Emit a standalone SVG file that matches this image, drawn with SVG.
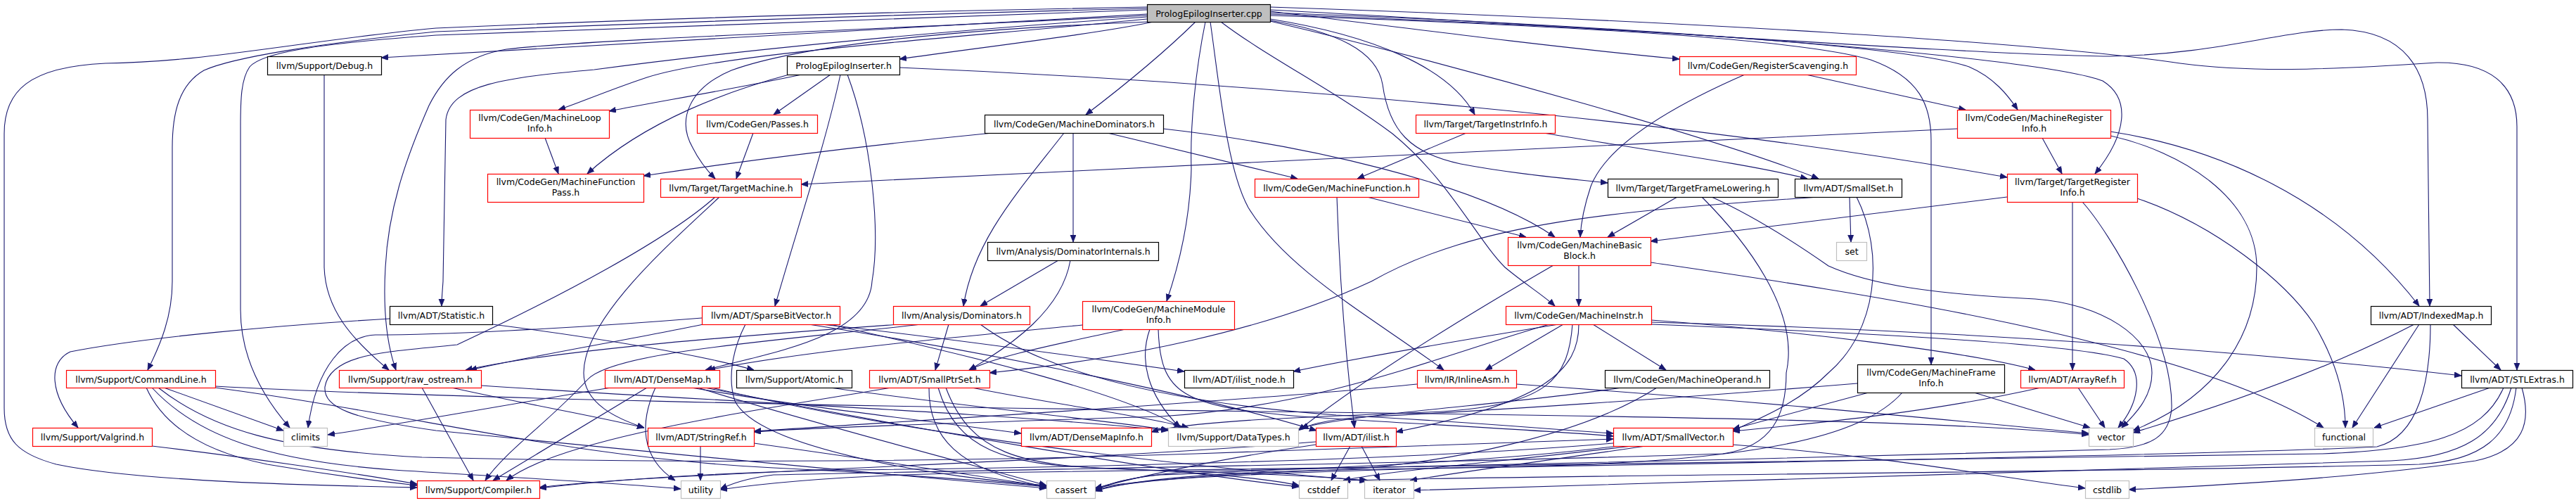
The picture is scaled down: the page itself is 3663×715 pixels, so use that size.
<svg xmlns="http://www.w3.org/2000/svg" width="3663" height="715" viewBox="0 0 3663 715">
<style>
.nd rect{fill:#fff;stroke:#000;stroke-width:1.2}
.nd.red rect{stroke:#ff0000}
.nd.leaf rect{stroke:#bfbfbf}
.nd.root rect{fill:#bfbfbf}
.nd text{font-family:"DejaVu Sans","Liberation Sans",sans-serif;font-size:12.5px;text-anchor:middle;fill:#000}
#edges path{fill:none;stroke:#191970;stroke-width:1.1;marker-end:url(#arr)}
</style>
<defs>
<marker id="arr" markerUnits="userSpaceOnUse" markerWidth="11" markerHeight="9" refX="10" refY="4" orient="auto"><path d="M0,0 L10,4 L0,8 z" fill="#191970" stroke="#191970" stroke-width="0.8"/></marker>
</defs>
<rect width="3663" height="715" fill="#fff"/>
<g id="edges">
<!-- cpp -->
<path d="M1640,31 C1560,48 1390,68 1279,84"/>
<path d="M1631,20 C1200,42 800,68 542,82"/>
<path d="M1631,10 C1100,20 800,32 620,40 C450,55 300,88 150,90 C40,95 6,130 6,190 L6,580 C6,625 25,645 80,660 C200,685 450,690 593,693"/>
<path d="M1631,12 C1100,25 800,38 620,45 C450,62 330,82 290,100 C255,120 245,160 245,210 L245,400 C245,450 228,490 210,526"/>
<path d="M1631,14 C1100,30 800,44 620,50 C450,62 372,75 355,95 C343,112 342,140 342,180 L342,440 C342,505 370,560 412,608"/>
<path d="M1631,22 C1300,40 850,55 720,70 C660,80 630,110 610,150 C575,230 552,300 548,380 C544,450 552,495 563,526"/>
<path d="M1631,24 C1400,40 1100,65 845,99 C720,110 640,120 634,170 L630,400 C629,415 628,425 628,435"/>
<path d="M1631,27 C1350,55 1030,75 920,110 C860,130 820,148 794,156"/>
<path d="M1633,31 C1400,40 1150,60 1040,100 C980,125 962,170 985,210 C995,230 1008,245 1017,254"/>
<path d="M1700,31 C1650,80 1590,128 1544,163"/>
<path d="M1714,31 C1700,100 1692,180 1694,240 C1692,320 1672,390 1659,428"/>
<path d="M1721,31 C1735,130 1745,240 1775,295 C1830,385 1950,450 2053,526"/>
<path d="M1736,31 C1800,80 1900,130 1980,190 C2060,255 2100,340 2140,380 C2170,405 2195,420 2211,435"/>
<path d="M1806,27 C1950,50 2060,95 2097,163"/>
<path d="M1806,29 C1900,45 1958,72 1966,120 C1975,185 2005,218 2077,233 C2150,247 2230,254 2286,260"/>
<path d="M1806,16 C2000,40 2200,66 2388,84"/>
<path d="M1806,30 C2100,100 2450,200 2586,254"/>
<path d="M1806,20 C2200,35 2700,60 2800,95 C2835,110 2855,135 2869,156"/>
<path d="M1806,18 C2300,35 2900,80 2990,115 C3030,140 3025,190 2979,247"/>
<path d="M1806,22 C2200,35 2560,55 2660,85 C2730,110 2746,150 2746,200 L2746,518"/>
<path d="M1806,14 C2300,40 2800,78 3000,80 C3150,78 3250,42 3330,42 C3420,45 3452,100 3452,170 L3455,435"/>
<path d="M1806,10 C2400,30 2900,60 3100,90 C3200,103 3300,100 3465,89 C3540,88 3579,120 3579,180 L3579,526"/>
<!-- Debug -->
<path d="M461,106 L461,380 C463,440 500,482 553,526"/>
<!-- PEI.h -->
<path d="M1140,106 C1050,125 950,142 866,158"/>
<path d="M1122,106 C1040,128 920,170 835,247"/>
<path d="M1181,106 L1100,163"/>
<path d="M1195,106 C1175,200 1135,320 1102,435"/>
<path d="M1205,106 C1240,200 1252,330 1240,400 C1235,480 1100,500 1003,526"/>
<path d="M1279,96 C1800,118 2400,172 2854,252"/>
<!-- RS -->
<path d="M2481,106 C2380,150 2285,205 2262,265 C2252,295 2248,318 2247,337"/>
<path d="M2568,106 L2795,156"/>
<!-- MLI, Passes -->
<path d="M775,196 L794,247"/>
<path d="M1071,189 L1047,254"/>
<!-- MDom -->
<path d="M1411,189 C1300,200 1100,222 915,250"/>
<path d="M1575,189 C1680,215 1780,238 1845,254"/>
<path d="M1654,183 C1850,205 2100,260 2211,337"/>
<path d="M1526,189 L1526,344"/>
<path d="M1513,189 C1450,270 1385,340 1370,435"/>
<!-- TII -->
<path d="M2085,189 L1930,254"/>
<path d="M2195,189 C2350,215 2480,232 2570,254"/>
<!-- MRI -->
<path d="M2783,183 C2300,205 1600,240 1139,262"/>
<path d="M2904,196 L2932,247"/>
<path d="M3001,187 C3150,210 3320,280 3440,435"/>
<path d="M3001,193 C3100,215 3209,280 3209,380 C3209,480 3150,565 3033,612"/>
<!-- TM -->
<path d="M1023,280 C960,340 830,450 830,530 C830,575 880,596 916,608"/>
<path d="M1017,280 C950,340 800,420 650,490 C560,500 470,500 462,550 C460,580 500,595 620,612 C800,630 1200,670 1488,694"/>
<!-- MF -->
<path d="M1901,280 C1905,400 1915,520 1926,608"/>
<path d="M1944,280 L2170,337"/>
<!-- TFL -->
<path d="M2385,280 L2286,337"/>
<path d="M2420,280 C2480,340 2560,440 2540,530 C2540,590 2520,635 2450,645 C2000,660 1400,668 1100,675 C1060,680 1040,688 1024,695"/>
<path d="M2434,280 C2500,310 2560,350 2600,378 C2660,405 2750,418 2894,425 C2990,432 3060,480 3060,530 C3060,565 3035,590 3017,608"/>
<!-- SmallSet -->
<path d="M2630,280 L2632,344"/>
<path d="M2585,280 C2300,300 2100,315 1950,400 C1800,470 1600,510 1407,530"/>
<path d="M2640,280 C2680,360 2670,470 2600,530 C2560,570 2510,592 2464,612"/>
<!-- TRI -->
<path d="M2854,280 C2650,305 2450,330 2347,343"/>
<path d="M2947,287 L2947,526"/>
<path d="M3039,282 C3150,320 3250,400 3290,460 C3320,510 3335,560 3335,608"/>
<path d="M2961,287 C3000,330 3090,480 3088,580 C3085,620 3060,636 3000,639 C2600,650 2000,665 1700,670 C1620,675 1580,685 1557,697"/>
<!-- MBB -->
<path d="M2245,377 L2245,435"/>
<path d="M2209,377 C2100,440 1950,530 1846,612"/>
<path d="M2347,373 C2600,410 3100,480 3304,608"/>
<!-- DomInt -->
<path d="M1505,370 L1394,435"/>
<path d="M1522,370 C1510,440 1440,490 1378,526"/>
<!-- Dominators -->
<path d="M1349,461 L1330,526"/>
<path d="M1279,461 C1100,474 800,495 662,526"/>
<path d="M1310,461 C1100,485 870,500 835,540 C780,600 720,640 690,683"/>
<path d="M1394,461 C1500,540 1700,575 1900,590 C2100,600 2200,610 2294,616"/>
<!-- MMI -->
<path d="M1600,468 C1500,490 1420,505 1378,526"/>
<path d="M1635,468 C1620,510 1630,560 1678,608"/>
<path d="M1647,468 C1650,560 1680,578 1850,592 C2000,602 2200,612 2294,620"/>
<path d="M1539,462 C1350,480 1150,498 1007,526"/>
<!-- MI -->
<path d="M2216,461 C2100,480 1950,505 1839,528"/>
<path d="M2223,461 L2112,526"/>
<path d="M2265,461 L2369,526"/>
<path d="M2245,461 C2245,525 2200,572 1985,614"/>
<path d="M2203,461 C2050,505 1880,578 1650,592 C1400,600 1150,608 1072,614"/>
<path d="M2236,461 C2230,540 2200,575 2050,585 C1900,592 1700,596 1637,614"/>
<path d="M2348,455 C2550,470 2800,500 2894,526"/>
<path d="M2348,458 C2800,470 3200,500 3500,534"/>
<path d="M2348,461 C2700,475 2950,490 3020,510 C3050,530 3040,575 3012,608"/>
<!-- IndexedMap -->
<path d="M3488,461 L3556,526"/>
<path d="M3440,461 L3345,608"/>
<path d="M3433,461 C3300,530 3150,580 3033,615"/>
<path d="M3456,461 C3456,540 3440,620 3380,635 C3200,645 2400,660 1900,668 C1700,672 1600,685 1557,698"/>
<!-- CommandLine -->
<path d="M233,551 L403,612"/>
<path d="M208,551 C230,600 280,640 380,660 C450,672 520,682 593,690"/>
<path d="M216,551 C280,620 380,655 560,668 C750,680 900,688 968,695"/>
<path d="M225,551 C300,610 400,640 600,650 C1000,660 1400,655 1700,645 C2000,636 2200,628 2294,624"/>
<path d="M306,551 C600,590 800,650 1100,665 C1300,675 1420,685 1488,692"/>
<path d="M306,549 C600,565 1200,578 1800,585 C2400,592 2800,600 2970,618"/>
<!-- Valgrind -->
<path d="M216,634 C350,650 500,672 593,688"/>
<!-- Statistic -->
<path d="M700,461 C850,480 1000,505 1072,526"/>
<path d="M554,453 C400,462 200,480 100,500 C68,515 70,560 111,608"/>
<!-- raw_ostream -->
<path d="M600,551 L673,683"/>
<path d="M642,551 C750,575 850,592 916,608"/>
<path d="M684,548 C1000,570 1400,585 1661,612"/>
<!-- SBV -->
<path d="M998,452 C800,468 620,476 534,476 C490,478 450,520 438,608"/>
<path d="M1000,461 C900,482 760,505 668,526"/>
<path d="M1168,461 C1300,475 1450,495 1684,528"/>
<path d="M1150,461 C1400,500 1700,560 1872,612"/>
<path d="M1180,461 C1400,510 1600,560 1680,608"/>
<path d="M1060,461 C1040,500 1035,540 1045,570 C1080,640 1350,680 1488,690"/>
<!-- DenseMap -->
<path d="M869,551 C750,570 600,598 466,618"/>
<path d="M920,551 L701,683"/>
<path d="M932,551 C910,600 910,650 960,683"/>
<path d="M983,551 C1150,580 1350,602 1452,616"/>
<path d="M992,551 C1150,600 1380,660 1488,690"/>
<path d="M1002,551 C1300,610 1650,670 1847,692"/>
<path d="M1012,551 C1300,620 1700,665 1945,683"/>
<!-- SmallPtrSet -->
<path d="M1267,551 C1100,580 800,620 720,683"/>
<path d="M1321,551 C1320,620 1360,668 1488,692"/>
<path d="M1334,551 C1360,640 1430,660 1560,665 C1700,670 1800,680 1847,690"/>
<path d="M1345,551 C1380,645 1450,662 1600,667 C1750,672 1880,676 1943,684"/>
<path d="M1382,551 C1500,575 1620,590 1690,608"/>
<!-- Atomic -->
<path d="M1180,551 C1350,575 1550,595 1661,611"/>
<!-- InlineAsm -->
<path d="M2015,546 C1800,568 1300,598 1072,613"/>
<path d="M2156,546 C2500,570 2800,600 2970,616"/>
<!-- MachineOperand -->
<path d="M2306,551 C2150,575 1950,585 1850,608"/>
<path d="M2356,551 C2250,620 2050,660 1900,668 C1700,675 1600,686 1557,696"/>
<!-- MFI -->
<path d="M2657,558 L2464,610"/>
<path d="M2641,545 C2400,565 2100,585 1950,592 C1900,595 1865,602 1850,610"/>
<path d="M2705,558 C2650,620 2500,660 2100,664 C1800,672 1620,680 1557,694"/>
<path d="M2807,558 L2972,608"/>
<!-- ArrayRef -->
<path d="M2902,551 C2750,585 2600,600 2464,613"/>
<path d="M2955,551 L2993,608"/>
<!-- STLExtras -->
<path d="M3541,551 L3376,608"/>
<path d="M3586,551 C3600,600 3590,640 3520,655 C3350,680 3150,690 3027,696"/>
<path d="M3560,551 C3530,620 3450,640 3300,645 C2500,660 1800,668 1400,672 C1200,675 1080,688 1024,696"/>
<path d="M3571,551 C3550,620 3500,650 3400,655 C3000,668 2300,688 2010,697"/>
<path d="M3578,551 C3570,620 3530,655 3440,660 C3000,672 2200,675 1910,683"/>
<!-- StringRef -->
<path d="M996,634 L996,683"/>
<path d="M1072,630 C1250,655 1400,678 1488,692"/>
<!-- ilist -->
<path d="M1920,634 L1893,683"/>
<path d="M1936,634 L1962,683"/>
<path d="M1871,632 C1750,650 1650,670 1557,694"/>
<path d="M1871,628 C1600,650 1200,665 1000,676 C900,681 820,686 767,693"/>
<!-- SmallVector -->
<path d="M2463,632 C2700,650 2850,680 2965,694"/>
<path d="M2294,630 C2000,655 1500,665 1200,668 C1000,672 850,684 767,694"/>
<path d="M2300,634 C2100,660 1800,668 1650,675 C1600,680 1575,688 1557,696"/>
<path d="M2320,634 C2150,655 1980,668 1910,683"/>
<path d="M2340,634 C2200,655 2080,670 2005,683"/>
</g>
<g id="n_cpp" class="nd root"><rect x="1631.5" y="6.5" width="175" height="25"/><text x="1719" y="23.5">PrologEpilogInserter.cpp</text></g>
<g id="n_debug" class="nd"><rect x="380.5" y="80.5" width="162" height="26"/><text x="461.5" y="98">llvm/Support/Debug.h</text></g>
<g id="n_pei" class="nd"><rect x="1119.5" y="80.5" width="160" height="26"/><text x="1199.5" y="98">PrologEpilogInserter.h</text></g>
<g id="n_rs" class="nd red"><rect x="2388.5" y="80.5" width="251" height="26"/><text x="2514" y="98">llvm/CodeGen/RegisterScavenging.h</text></g>
<g id="n_mli" class="nd red"><rect x="668.5" y="156.5" width="198" height="40"/><text x="767.5" y="172">llvm/CodeGen/MachineLoop</text><text x="767.5" y="187">Info.h</text></g>
<g id="n_passes" class="nd red"><rect x="991.5" y="163.5" width="171" height="26"/><text x="1077" y="181">llvm/CodeGen/Passes.h</text></g>
<g id="n_mdom" class="nd"><rect x="1400.5" y="163.5" width="254" height="26"/><text x="1527.5" y="181">llvm/CodeGen/MachineDominators.h</text></g>
<g id="n_tii" class="nd red"><rect x="2013.5" y="163.5" width="198" height="26"/><text x="2112.5" y="181">llvm/Target/TargetInstrInfo.h</text></g>
<g id="n_mri" class="nd red"><rect x="2783.5" y="156.5" width="218" height="40"/><text x="2892.5" y="172">llvm/CodeGen/MachineRegister</text><text x="2892.5" y="187">Info.h</text></g>
<g id="n_mfp" class="nd red"><rect x="693.5" y="247.5" width="222" height="40"/><text x="804.5" y="263">llvm/CodeGen/MachineFunction</text><text x="804.5" y="278">Pass.h</text></g>
<g id="n_tm" class="nd red"><rect x="939.5" y="254.5" width="200" height="26"/><text x="1039.5" y="272">llvm/Target/TargetMachine.h</text></g>
<g id="n_mf" class="nd red"><rect x="1784.5" y="254.5" width="233" height="26"/><text x="1901" y="272">llvm/CodeGen/MachineFunction.h</text></g>
<g id="n_tfl" class="nd"><rect x="2286.5" y="254.5" width="242" height="26"/><text x="2407.5" y="272">llvm/Target/TargetFrameLowering.h</text></g>
<g id="n_smallset" class="nd"><rect x="2552.5" y="254.5" width="152" height="26"/><text x="2628.5" y="272">llvm/ADT/SmallSet.h</text></g>
<g id="n_tri" class="nd red"><rect x="2854.5" y="247.5" width="185" height="40"/><text x="2947" y="263">llvm/Target/TargetRegister</text><text x="2947" y="278">Info.h</text></g>
<g id="n_mbb" class="nd red"><rect x="2144.5" y="337.5" width="203" height="40"/><text x="2246" y="353">llvm/CodeGen/MachineBasic</text><text x="2246" y="368">Block.h</text></g>
<g id="n_domint" class="nd"><rect x="1404.5" y="344.5" width="243" height="26"/><text x="1526" y="362">llvm/Analysis/DominatorInternals.h</text></g>
<g id="n_set" class="nd leaf"><rect x="2611.5" y="344.5" width="43" height="26"/><text x="2633" y="362">set</text></g>
<g id="n_statistic" class="nd"><rect x="554.5" y="435.5" width="146" height="26"/><text x="627.5" y="453">llvm/ADT/Statistic.h</text></g>
<g id="n_sbv" class="nd red"><rect x="998.5" y="435.5" width="196" height="26"/><text x="1096.5" y="453">llvm/ADT/SparseBitVector.h</text></g>
<g id="n_dominators" class="nd red"><rect x="1270.5" y="435.5" width="194" height="26"/><text x="1367.5" y="453">llvm/Analysis/Dominators.h</text></g>
<g id="n_mmi" class="nd red"><rect x="1539.5" y="428.5" width="216" height="40"/><text x="1647.5" y="444">llvm/CodeGen/MachineModule</text><text x="1647.5" y="459">Info.h</text></g>
<g id="n_mi" class="nd red"><rect x="2141.5" y="435.5" width="207" height="26"/><text x="2245" y="453">llvm/CodeGen/MachineInstr.h</text></g>
<g id="n_indexedmap" class="nd"><rect x="3371.5" y="435.5" width="171" height="26"/><text x="3457" y="453">llvm/ADT/IndexedMap.h</text></g>
<g id="n_cmdline" class="nd red"><rect x="94.5" y="526.5" width="212" height="25"/><text x="200.5" y="543.5">llvm/Support/CommandLine.h</text></g>
<g id="n_rawos" class="nd red"><rect x="482.5" y="526.5" width="202" height="25"/><text x="583.5" y="543.5">llvm/Support/raw_ostream.h</text></g>
<g id="n_densemap" class="nd red"><rect x="860.5" y="526.5" width="163" height="25"/><text x="942" y="543.5">llvm/ADT/DenseMap.h</text></g>
<g id="n_atomic" class="nd"><rect x="1047.5" y="526.5" width="164" height="25"/><text x="1129.5" y="543.5">llvm/Support/Atomic.h</text></g>
<g id="n_smallptrset" class="nd red"><rect x="1236.5" y="526.5" width="171" height="25"/><text x="1322" y="543.5">llvm/ADT/SmallPtrSet.h</text></g>
<g id="n_ilistnode" class="nd"><rect x="1684.5" y="526.5" width="155" height="25"/><text x="1762" y="543.5">llvm/ADT/ilist_node.h</text></g>
<g id="n_inlineasm" class="nd red"><rect x="2015.5" y="526.5" width="141" height="25"/><text x="2086" y="543.5">llvm/IR/InlineAsm.h</text></g>
<g id="n_mop" class="nd"><rect x="2282.5" y="526.5" width="234" height="25"/><text x="2399.5" y="543.5">llvm/CodeGen/MachineOperand.h</text></g>
<g id="n_mfi" class="nd"><rect x="2641.5" y="518.5" width="209" height="40"/><text x="2746" y="534">llvm/CodeGen/MachineFrame</text><text x="2746" y="549">Info.h</text></g>
<g id="n_arrayref" class="nd red"><rect x="2873.5" y="526.5" width="147" height="25"/><text x="2947" y="543.5">llvm/ADT/ArrayRef.h</text></g>
<g id="n_stlextras" class="nd"><rect x="3500.5" y="526.5" width="158" height="25"/><text x="3579.5" y="543.5">llvm/ADT/STLExtras.h</text></g>
<g id="n_valgrind" class="nd red"><rect x="46.5" y="608.5" width="170" height="26"/><text x="131.5" y="626">llvm/Support/Valgrind.h</text></g>
<g id="n_climits" class="nd leaf"><rect x="403.5" y="608.5" width="62" height="26"/><text x="434.5" y="626">climits</text></g>
<g id="n_stringref" class="nd red"><rect x="921.5" y="608.5" width="151" height="26"/><text x="997" y="626">llvm/ADT/StringRef.h</text></g>
<g id="n_densemapinfo" class="nd red"><rect x="1452.5" y="608.5" width="185" height="26"/><text x="1545" y="626">llvm/ADT/DenseMapInfo.h</text></g>
<g id="n_datatypes" class="nd leaf"><rect x="1661.5" y="608.5" width="185" height="26"/><text x="1754" y="626">llvm/Support/DataTypes.h</text></g>
<g id="n_ilist" class="nd red"><rect x="1871.5" y="608.5" width="114" height="26"/><text x="1928.5" y="626">llvm/ADT/ilist.h</text></g>
<g id="n_smallvector" class="nd red"><rect x="2294.5" y="608.5" width="170" height="26"/><text x="2379.5" y="626">llvm/ADT/SmallVector.h</text></g>
<g id="n_vector" class="nd leaf"><rect x="2970.5" y="608.5" width="63" height="26"/><text x="3002" y="626">vector</text></g>
<g id="n_functional" class="nd leaf"><rect x="3291.5" y="608.5" width="83" height="26"/><text x="3333" y="626">functional</text></g>
<g id="n_compiler" class="nd red"><rect x="593.5" y="683.5" width="174" height="25"/><text x="680.5" y="700.5">llvm/Support/Compiler.h</text></g>
<g id="n_utility" class="nd leaf"><rect x="968.5" y="683.5" width="56" height="25"/><text x="996.5" y="700.5">utility</text></g>
<g id="n_cassert" class="nd leaf"><rect x="1488.5" y="683.5" width="69" height="25"/><text x="1523" y="700.5">cassert</text></g>
<g id="n_cstddef" class="nd leaf"><rect x="1847.5" y="683.5" width="69" height="25"/><text x="1882" y="700.5">cstddef</text></g>
<g id="n_iterator" class="nd leaf"><rect x="1940.5" y="683.5" width="70" height="25"/><text x="1975.5" y="700.5">iterator</text></g>
<g id="n_cstdlib" class="nd leaf"><rect x="2965.5" y="683.5" width="62" height="25"/><text x="2996.5" y="700.5">cstdlib</text></g>
</svg>
